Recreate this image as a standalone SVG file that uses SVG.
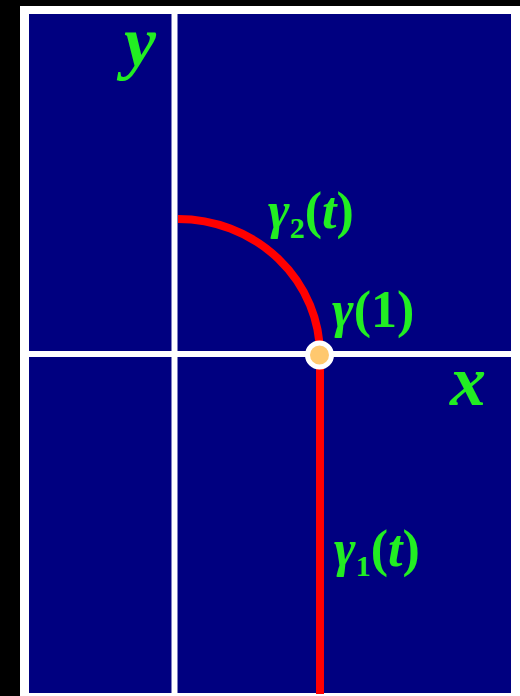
<svg xmlns="http://www.w3.org/2000/svg" width="520" height="696" viewBox="0 0 520 696">
<style>
.lbl{font-family:"Liberation Serif","Times New Roman",serif;font-weight:bold;font-style:italic;fill:#22ee22}
.up{font-style:normal}
.axis{stroke:#ffffff;stroke-width:6;fill:none}
.curve{stroke:#ff0000;stroke-width:8;fill:none}
</style>
<rect x="0" y="0" width="520" height="696" fill="#000000"/>
<rect x="20" y="6" width="500" height="690" fill="#ffffff"/>
<rect x="29" y="14" width="482" height="679" fill="#000080"/>
<g id="axes">
<line class="axis" x1="174.5" y1="14" x2="174.5" y2="693"/>
<line class="axis" x1="29" y1="354" x2="511" y2="354"/>
</g>
<g id="curves">
<path class="curve" d="M178,219 A142,136 0 0 1 320,355 L320,694"/>
</g>
<g id="point">
<circle cx="319.5" cy="355" r="12" fill="#ffc86e" stroke="#ffffff" stroke-width="5"/>
</g>
<g id="labels">
<text class="lbl" x="124" y="66" font-size="72">y</text>
<text class="lbl" x="450" y="405" font-size="72">x</text>
<text class="lbl" x="268" y="228" font-size="52">γ<tspan class="up" font-size="30" dy="10">2</tspan><tspan class="up" dy="-10">(</tspan>t<tspan class="up">)</tspan></text>
<text class="lbl" x="332" y="327" font-size="52">γ<tspan class="up">(1)</tspan></text>
<text class="lbl" x="334" y="566" font-size="52">γ<tspan class="up" font-size="30" dy="10">1</tspan><tspan class="up" dy="-10">(</tspan>t<tspan class="up">)</tspan></text>
</g>
</svg>
